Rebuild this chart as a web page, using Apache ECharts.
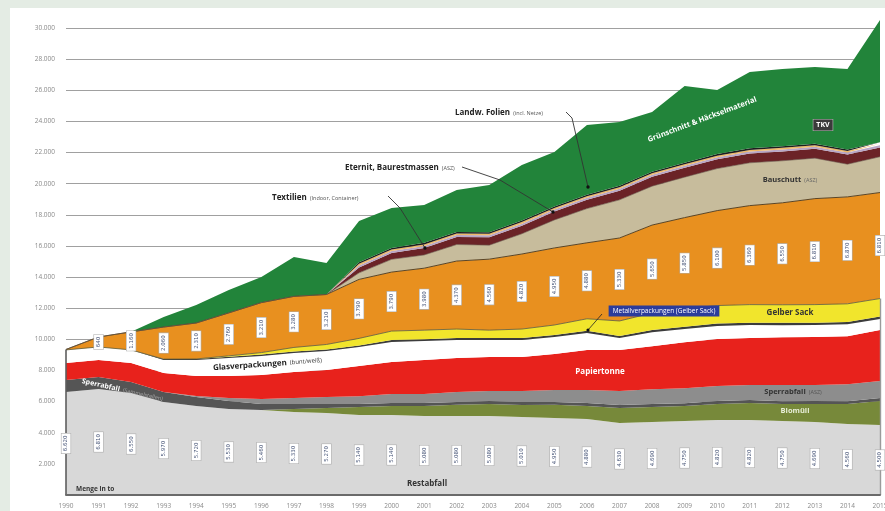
<!DOCTYPE html>
<html><head><meta charset="utf-8">
<script src="https://cdn.jsdelivr.net/npm/echarts@6/dist/echarts.min.js"></script>
<style>
html,body{margin:0;padding:0;width:885px;height:511px;overflow:hidden;background:#e4ece4;}
#bg{position:absolute;left:10px;top:8px;right:0;bottom:0;background:#fff;}
#chart{position:absolute;left:0;top:0;width:885px;height:511px;}
</style></head><body><div id="bg"></div><div id="chart"></div>
<script>
const years = ['1990','1991','1992','1993','1994','1995','1996','1997','1998','1999','2000','2001','2002','2003','2004','2005','2006','2007','2008','2009','2010','2011','2012','2013','2014','2015'];
const restabfall = [6620,6810,6550,5970,5720,5530,5460,5330,5270,5140,5140,5080,5080,5080,5010,4950,4880,4630,4690,4750,4820,4820,4750,4690,4560,4500];
const bioabfall = [0,0,0,0,0,0,0,190,320,510,580,640,710,770,770,840,840,960,960,960,1030,1090,1090,1160,1280,1540];
const sperrSammel = [770,770,710,640,580,510,390,320,260,190,190,190,190,190,190,190,190,190,190,190,190,190,190,190,190,190];
const sperrASZ = [0,0,0,0,60,190,320,390,450,510,580,580,640,640,710,770,840,900,960,960,960,960,1030,1030,1090,1090];
const papier = [1090,1090,1220,1220,1280,1410,1540,1670,1730,1930,2060,2180,2180,2180,2180,2310,2570,2630,2760,2960,3020,3020,3080,3080,3080,3280];
const glas = [840,840,840,840,1030,1160,1220,1220,1220,1220,1280,1220,1160,1090,1090,1090,1090,770,900,840,840,840,770,770,770,710];
const metall = [0,0,0,60,70,80,90,100,100,110,120,120,120,130,130,130,140,140,140,150,150,150,150,150,150,150];
const gelberSack = [0,0,0,0,0,60,130,260,320,450,580,580,580,510,580,640,770,960,1090,1160,1160,1160,1160,1160,1160,1160];
const orangeLayer = [30,640,1160,2060,2310,2760,3210,3280,3210,3790,3790,3980,4370,4560,4820,4950,4880,5330,5650,5850,6100,6360,6550,6810,6870,6810];
const bauschutt = [0,0,0,0,0,0,0,0,0,420,820,850,1060,900,1300,1800,2200,2450,2500,2600,2700,2750,2700,2600,2100,2300];
const eternit = [0,0,0,0,0,0,0,0,0,350,400,450,480,500,520,540,560,580,600,600,600,600,600,600,620,600];
const textilien = [0,0,0,0,0,0,0,0,0,130,130,130,130,130,130,130,130,130,130,130,130,130,130,130,130,130];
const folien = [0,0,0,0,0,0,0,0,0,100,100,100,100,100,100,100,100,100,100,100,100,100,100,100,100,100];
const tkv = [0,0,0,0,0,0,0,0,0,100,100,100,100,100,100,100,100,100,100,100,100,100,100,100,100,100];
const gruenschnitt = [0,0,0,645,1160,1470,1640,2530,2020,2650,2570,2430,2690,3030,3570,3490,4480,4090,3830,4920,4120,4900,4970,4930,5170,7850];
const yTicks = [0,2000,4000,6000,8000,10000,12000,14000,16000,18000,20000,22000,24000,26000,28000,30000];

function fmt(v){ v=Math.round(v); return v>=1000 ? Math.floor(v/1000)+'.'+String(v%1000).padStart(3,'0') : String(v); }

const layers = [
  {name:'Restabfall', data:restabfall, color:'#d8d8d8'},
  {name:'Bioabfall', data:bioabfall, color:'#77893a'},
  {name:'Sperrabfall (Sammelstellen)', data:sperrSammel, color:'#555555'},
  {name:'Sperrabfall (ASZ)', data:sperrASZ, color:'#8d8d8d'},
  {name:'Papiertonne', data:papier, color:'#e8221c'},
  {name:'Glasverpackungen', data:glas, color:'#ffffff'},
  {name:'Metallverpackungen', data:metall, color:'#3c3c3c'},
  {name:'Gelber Sack', data:gelberSack, color:'#f1e52c', line:{width:0.8,color:'#5a5a3a'}},
  {name:'Orange', data:orangeLayer, color:'#e8901f', line:{width:1,color:'#5a4424'}},
  {name:'Bauschutt (ASZ)', data:bauschutt, color:'#c7bc9c', line:{width:0.6,color:'#6a5a4a'}},
  {name:'Eternit, Baurestmassen (ASZ)', data:eternit, color:'#6b2327'},
  {name:'Textilien', data:textilien, color:'#b8a6c6'},
  {name:'Landw. Folien', data:folien, color:'#efb868'},
  {name:'TKV', data:tkv, color:'#1e1e1e'},
  {name:'Grünschnitt & Häckselmaterial', data:gruenschnitt, color:'#22843a'}
];
function total(i){ let s=0; layers.forEach(l=>s+=l.data[i]); return s; }
const last = years.length-1;

const series = layers.map((l,idx) => ({
  name:l.name, type:'line', stack:'total', data:l.data, symbol:'none', clip:false,
  lineStyle: l.line ? l.line : {width:0},
  areaStyle:{color:l.color, opacity:1}, itemStyle:{color:l.color},
  emphasis:{disabled:true}, silent:true, z:2,
  markLine: idx===0 ? {silent:true, symbol:'none', label:{show:false},
    data:[
      [{coord:[0,0], lineStyle:{color:'#5e5e5e', width:1.6, type:'solid'}},{coord:[0,total(0)]}],
      [{coord:[last,0], lineStyle:{color:'#9a9a9a', width:1.4, type:'solid'}},{coord:[last,restabfall[last]+bioabfall[last]+sperrSammel[last]+sperrASZ[last]+papier[last]+glas[last]+metall[last]+gelberSack[last]]}]
    ]} : undefined
}));

// value boxes (Restabfall and orange layer), placed at the middle of each band
function below(idx, i){ let s=0; for(let k=0;k<idx;k++) s+=layers[k].data[i]; return s; }
const boxLabel = {show:true, position:'inside', rotate:90, formatter:p=>fmt(p.data[2]),
  backgroundColor:'#ffffff', borderColor:'#b0b0b0', borderWidth:0.6, padding:[1.5,2,1.5,2],
  fontSize:5.5, color:'#4a587a', fontFamily:'DejaVu Sans', opacity:1};
const restBoxes = years.map((y,i)=>[i, restabfall[i]/2, restabfall[i]]);
const orangeBoxes = years.map((y,i)=>[i, below(8,i)+orangeLayer[i]/2, orangeLayer[i]]).filter(d=>d[2]>500);
series.push({type:'scatter', data:restBoxes, symbolSize:1, itemStyle:{color:'rgba(0,0,0,0)'}, label:boxLabel, silent:true, z:5, clip:false});
series.push({type:'scatter', data:orangeBoxes, symbolSize:1, itemStyle:{color:'rgba(0,0,0,0)'}, label:boxLabel, silent:true, z:5, clip:false});

const F = '"Open Sans", "DejaVu Sans", sans-serif';
function t(x,y,text,rich,extra){ return {type:'text', x, y, z:100, style:Object.assign({text, rich, fontFamily:F, verticalAlign:'middle'}, extra||{})}; }
const graphic = [
  t(76,489,'Menge in to',null,{fontSize:6.5,fontWeight:'bold',fill:'#333'}),
  t(427,484,'Restabfall',null,{fontSize:8,fontWeight:'bold',fill:'#333',align:'center'}),
  Object.assign(t(82,381,'{a|Sperrabfall} {b|(Sammelstellen)}',{a:{fontSize:7,fontWeight:'bold',fill:'#fff',fontFamily:F},b:{fontSize:5.5,fill:'#a8a8a8',fontFamily:F}}),{rotation:-0.22}),
  Object.assign(t(213,368,'{a|Glasverpackungen} {b|(bunt/weiß)}',{a:{fontSize:8,fontWeight:'bold',fill:'#222',fontFamily:F},b:{fontSize:6,fill:'#333',fontFamily:F}}),{rotation:0.07}),
  t(600,372,'Papiertonne',null,{fontSize:8,fontWeight:'bold',fill:'#fff',align:'center'}),
  t(793,392,'{a|Sperrabfall} {b|(ASZ)}',{a:{fontSize:7.5,fontWeight:'bold',fill:'#333',fontFamily:F},b:{fontSize:5.5,fill:'#555',fontFamily:F}},{align:'center'}),
  t(795,411,'Biomüll',null,{fontSize:7.5,fontWeight:'bold',fill:'#e8eed8',align:'center'}),
  t(790,313,'Gelber Sack',null,{fontSize:8,fontWeight:'bold',fill:'#333',align:'center'}),
  {type:'polyline', z:99, shape:{points:[[602,314],[588,330]]}, style:{stroke:'#222',lineWidth:0.8,fill:null}},
  {type:'circle', z:100, shape:{cx:588,cy:330,r:1.6}, style:{fill:'#111'}},
  t(664,311,'Metallverpackungen (Gelber Sack)',null,{fontSize:6.5,fill:'#fff',align:'center',backgroundColor:'#2b3c9b',padding:[2,4,2,4]}),
  t(790,180,'{a|Bauschutt} {b|(ASZ)}',{a:{fontSize:7.5,fontWeight:'bold',fill:'#333',fontFamily:F},b:{fontSize:5.5,fill:'#666',fontFamily:F}},{align:'center'}),
  t(823,125,'TKV',null,{fontSize:7,fontWeight:'bold',fill:'#fff',align:'center',backgroundColor:'#3a3a3a',borderColor:'#bbb',borderWidth:0.6,padding:[2,3,2,3]}),
  Object.assign(t(648,140,'Grünschnitt & Häckselmaterial',null,{fontSize:7.5,fontWeight:'bold',fill:'#fff'}),{rotation:0.36}),
  t(455,113,'{a|Landw. Folien} {b|(incl. Netze)}',{a:{fontSize:8,fontWeight:'bold',fill:'#222',fontFamily:F},b:{fontSize:5.5,fill:'#555',fontFamily:F}}),
  {type:'polyline', z:99, shape:{points:[[566,112],[572,118],[588,187]]}, style:{stroke:'#333',lineWidth:0.9,fill:null}},
  {type:'circle', z:100, shape:{cx:588,cy:187,r:1.7}, style:{fill:'#111'}},
  t(345,168,'{a|Eternit, Baurestmassen} {b|(ASZ)}',{a:{fontSize:8,fontWeight:'bold',fill:'#222',fontFamily:F},b:{fontSize:5.5,fill:'#555',fontFamily:F}}),
  {type:'polyline', z:99, shape:{points:[[462,167],[500,180],[553,212]]}, style:{stroke:'#333',lineWidth:0.9,fill:null}},
  {type:'circle', z:100, shape:{cx:553,cy:212,r:1.7}, style:{fill:'#111'}},
  t(272,198,'{a|Textilien} {b|(Indoor, Container)}',{a:{fontSize:8,fontWeight:'bold',fill:'#222',fontFamily:F},b:{fontSize:5.5,fill:'#555',fontFamily:F}}),
  {type:'polyline', z:99, shape:{points:[[388,196],[400,208],[425,248]]}, style:{stroke:'#333',lineWidth:0.9,fill:null}},
  {type:'circle', z:100, shape:{cx:425,cy:248,r:1.7}, style:{fill:'#111'}}
];

const chart = echarts.init(document.getElementById('chart'), null, {renderer:'canvas'});
chart.setOption({
  backgroundColor:'transparent',
  animation:false,
  grid:{left:66, right:5, top:28, bottom:16, containLabel:false, outerBoundsMode:'none'},
  xAxis:{type:'category', data:years, boundaryGap:false,
    axisLine:{show:true, lineStyle:{color:'#6a6a6a', width:2}}, axisTick:{show:false},
    axisLabel:{interval:0, fontSize:6.5, color:'#8a8a8a', margin:8, fontFamily:F},
    splitLine:{show:false}, z:10},
  yAxis:{type:'value', min:yTicks[0], max:yTicks[yTicks.length-1], interval:2000,
    axisLine:{show:false}, axisTick:{show:false},
    axisLabel:{fontSize:6.5, color:'#8a8a8a', margin:11, fontFamily:F, formatter:v=>v===0?'':fmt(v)},
    splitLine:{show:true, lineStyle:{color:'#a0a0a0', width:1.2}}},
  series,
  graphic
});
</script></body></html>
